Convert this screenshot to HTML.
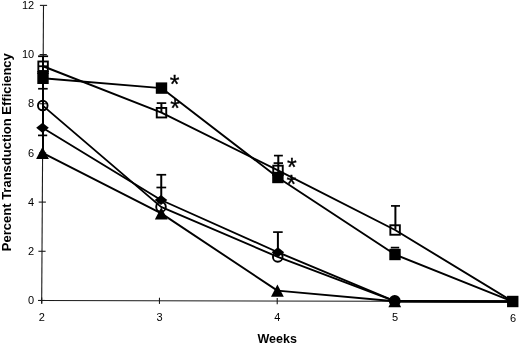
<!DOCTYPE html>
<html><head><meta charset="utf-8"><title>Percent Transduction Efficiency</title>
<style>html,body{margin:0;padding:0;background:#fff;}svg{display:block;}text{font-family:"Liberation Sans",Arial,sans-serif;fill:#000;}</style></head><body>
<svg width="520" height="344" viewBox="0 0 520 344">
<rect width="520" height="344" fill="#fff"/>
<g stroke="#1a1a1a" stroke-width="1.1" fill="none">
<line x1="43.50" y1="5.38" x2="41.68" y2="303.53"/>
<line x1="38.17" y1="300.45" x2="512.74" y2="301.50"/>
<line x1="38.10" y1="300.46" x2="45.30" y2="300.46"/>
<line x1="38.40" y1="251.28" x2="45.60" y2="251.28"/>
<line x1="38.70" y1="202.10" x2="45.90" y2="202.10"/>
<line x1="39.00" y1="152.92" x2="46.20" y2="152.92"/>
<line x1="39.30" y1="103.74" x2="46.50" y2="103.74"/>
<line x1="39.60" y1="54.56" x2="46.80" y2="54.56"/>
<line x1="39.90" y1="5.38" x2="47.10" y2="5.38"/>
<line x1="41.70" y1="297.46" x2="41.70" y2="303.66"/>
<line x1="159.46" y1="297.72" x2="159.46" y2="303.92"/>
<line x1="277.22" y1="297.98" x2="277.22" y2="304.18"/>
<line x1="394.98" y1="298.24" x2="394.98" y2="304.44"/>
<line x1="512.74" y1="298.50" x2="512.74" y2="304.70"/>
</g>
<g font-size="11px" text-anchor="end">
<text x="34.2" y="304.11">0</text>
<text x="34.2" y="254.93">2</text>
<text x="34.2" y="205.75">4</text>
<text x="34.2" y="156.57">6</text>
<text x="34.2" y="107.39">8</text>
<text x="34.2" y="58.21">10</text>
<text x="34.2" y="9.03">12</text>
</g>
<g font-size="11px" text-anchor="middle">
<text x="41.90" y="320.66">2</text>
<text x="159.66" y="320.92">3</text>
<text x="277.42" y="321.18">4</text>
<text x="395.18" y="321.44">5</text>
<text x="512.94" y="321.70">6</text>
</g>
<text x="277.2" y="342.6" font-size="12.5px" font-weight="bold" text-anchor="middle">Weeks</text>
<text transform="translate(10.9,152.2) rotate(-90)" font-size="13px" font-weight="bold" text-anchor="middle">Percent Transduction Efficiency</text>
<g stroke="#000" stroke-width="1.9" fill="none" stroke-linejoin="round">
<polyline points="43.10,66.25 161.50,112.70 278.00,170.40 395.10,230.00 512.75,301.50"/>
<polyline points="43.00,78.30 161.50,88.10 277.90,177.50 395.00,254.50 512.75,301.50"/>
<polyline points="42.75,105.60 161.00,206.90 277.75,256.90 394.75,301.20 512.75,301.50"/>
<polyline points="42.50,127.80 161.00,200.00 277.90,252.25 394.75,301.20 512.75,301.50"/>
<polyline points="42.50,152.80 161.25,213.40 277.40,290.60 394.75,301.20 512.75,301.50"/>
</g>
<line x1="394.75" y1="301.2" x2="512.75" y2="301.5" stroke="#000" stroke-width="2.2"/>
<line x1="43.00" y1="56.25" x2="43.00" y2="150.00" stroke="#000" stroke-width="2.0"/>
<line x1="38.10" y1="56.25" x2="48.10" y2="56.25" stroke="#000" stroke-width="1.7"/>
<line x1="38.10" y1="88.75" x2="47.70" y2="88.75" stroke="#000" stroke-width="1.7"/>
<line x1="38.00" y1="135.40" x2="47.20" y2="135.40" stroke="#000" stroke-width="1.7"/>
<line x1="161.40" y1="103.10" x2="161.40" y2="112.70" stroke="#000" stroke-width="2.0"/>
<line x1="156.75" y1="103.10" x2="166.25" y2="103.10" stroke="#000" stroke-width="1.7"/>
<line x1="161.25" y1="174.75" x2="161.25" y2="200.00" stroke="#000" stroke-width="2.0"/>
<line x1="156.43" y1="174.75" x2="166.18" y2="174.75" stroke="#000" stroke-width="1.7"/>
<line x1="156.43" y1="187.50" x2="166.18" y2="187.50" stroke="#000" stroke-width="1.7"/>
<line x1="278.30" y1="155.60" x2="278.30" y2="172.50" stroke="#000" stroke-width="2.0"/>
<line x1="273.95" y1="155.60" x2="282.85" y2="155.60" stroke="#000" stroke-width="1.7"/>
<line x1="273.60" y1="163.10" x2="283.00" y2="163.10" stroke="#000" stroke-width="1.7"/>
<line x1="277.90" y1="232.10" x2="277.90" y2="252.00" stroke="#000" stroke-width="2.0"/>
<line x1="273.10" y1="232.10" x2="282.70" y2="232.10" stroke="#000" stroke-width="1.7"/>
<line x1="395.40" y1="205.90" x2="395.40" y2="229.50" stroke="#000" stroke-width="2.0"/>
<line x1="391.00" y1="205.90" x2="400.00" y2="205.90" stroke="#000" stroke-width="1.7"/>
<line x1="390.80" y1="247.60" x2="399.20" y2="247.60" stroke="#000" stroke-width="1.7"/>
<rect x="38.35" y="61.50" width="9.5" height="9.5" fill="none" stroke="#000" stroke-width="1.9"/>
<rect x="156.75" y="107.95" width="9.5" height="9.5" fill="none" stroke="#000" stroke-width="1.9"/>
<rect x="273.25" y="165.65" width="9.5" height="9.5" fill="none" stroke="#000" stroke-width="1.9"/>
<rect x="390.35" y="225.25" width="9.5" height="9.5" fill="none" stroke="#000" stroke-width="1.9"/>
<circle cx="42.75" cy="105.60" r="4.8" fill="none" stroke="#000" stroke-width="1.9"/>
<circle cx="161.00" cy="206.90" r="4.8" fill="none" stroke="#000" stroke-width="1.9"/>
<circle cx="277.75" cy="256.90" r="4.8" fill="none" stroke="#000" stroke-width="1.9"/>
<rect x="37.30" y="72.60" width="11.4" height="11.4" fill="#000"/>
<rect x="155.80" y="82.40" width="11.4" height="11.4" fill="#000"/>
<rect x="272.20" y="171.80" width="11.4" height="11.4" fill="#000"/>
<rect x="389.30" y="248.80" width="11.4" height="11.4" fill="#000"/>
<rect x="507.05" y="295.80" width="11.4" height="11.4" fill="#000"/>
<polygon points="36.20,127.80 42.50,122.70 48.80,127.80 42.50,132.90" fill="#000"/>
<polygon points="154.70,200.00 161.00,194.90 167.30,200.00 161.00,205.10" fill="#000"/>
<polygon points="271.60,252.25 277.90,247.15 284.20,252.25 277.90,257.35" fill="#000"/>
<polygon points="388.45,301.20 394.75,296.10 401.05,301.20 394.75,306.30" fill="#000"/>
<polygon points="36.10,158.90 42.50,146.70 48.90,158.90" fill="#000"/>
<polygon points="154.85,219.50 161.25,207.30 167.65,219.50" fill="#000"/>
<polygon points="271.00,296.70 277.40,284.50 283.80,296.70" fill="#000"/>
<polygon points="388.35,307.30 394.75,295.10 401.15,307.30" fill="#000"/>
<circle cx="394.75" cy="301.00" r="5.0" fill="#000" stroke="#000" stroke-width="1.9"/>
<line x1="38.20" y1="66.25" x2="48.00" y2="66.25" stroke="#000" stroke-width="1.8"/>
<rect x="37.3" y="71" width="11.4" height="3" fill="#000"/>
<text x="174.50" y="93.00" font-size="25px" stroke="#000" stroke-width="0.3" text-anchor="middle">*</text>
<text x="175.00" y="117.10" font-size="25px" stroke="#000" stroke-width="0.3" text-anchor="middle">*</text>
<text x="291.90" y="176.20" font-size="25px" stroke="#000" stroke-width="0.3" text-anchor="middle">*</text>
<text x="291.25" y="193.20" font-size="25px" stroke="#000" stroke-width="0.3" text-anchor="middle">*</text>
</svg></body></html>
